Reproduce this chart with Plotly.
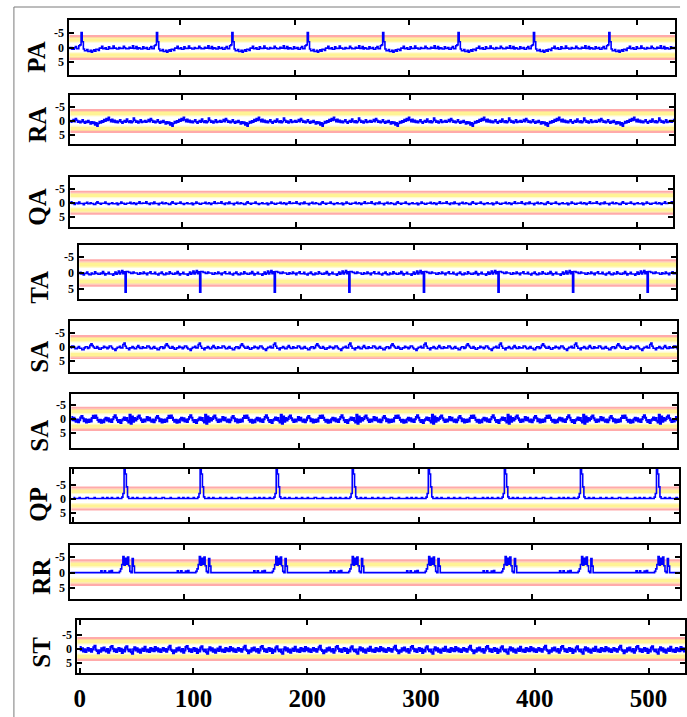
import numpy as np
import plotly.graph_objects as go

# ---- data: one gait cycle (66 samples) per channel, repeated over the record ----
N_SAMPLES = 534
labels = ["PA", "RA", "QA", "TA", "SA", "SA", "QP", "RR", "ST"]

PA = [0.5, -0.2, 0.3, 0.3, 0.0, 0.6, 0.6, 0.1,
      -0.3, 0.4, 0.4, -0.6, -0.9, -5.2, -2.0, 0.5, 1.1, 1.1,
      0.7, 1.4, 1.4, 1.0, 1.6, 1.2, 0.8, 1.3, 0.6, 0.6,
      1.0, 0.2, 0.2, -0.4, 0.4, 0.4, 0.1, 0.6, 0.6, -0.2,
      0.3, 0.3, 0.3, -0.5, 0.2, 0.2, 0.5, 0.5, 0.0, 0.3,
      0.3, 0.3, -0.4, 0.1, 0.4, 0.4, 0.4, -0.1, 0.2, 0.2,
      -0.6, 0.3, 0.3, -0.3, 0.5, 0.1, 0.2, 0.5]

RA = [0.3, -0.2, 0.4, 0.1, -0.5, 0.2, -0.9, -0.3, 0.4, 0.0,
      0.6, 0.2, -0.4, 0.3, 0.8, 0.1, 0.5, -0.2, 0.4, 1.0,
      0.3, 0.9, 0.4, 1.4, 0.6, 1.8, 0.9, 0.2, 0.7, -0.1,
      0.4, -0.5, 0.1, -0.9, -0.2, -1.3, -0.4, 0.2, -0.6, 0.3,
      -0.3, 0.5, 0.0, 0.6, 0.1, -0.4, 0.3, 0.8, 0.2, -0.2,
      0.4, -0.7, 0.1, 0.5, -0.1, 0.6, 0.2, -1.1, -0.3, 0.4,
      0.0, 0.7, 0.2, -0.4, 0.5, 0.1]

QA = [0.2, 0.2, -0.3, 0.3, 0.3, 0.6, 0.1, 0.1, 0.4, -0.2,
      0.3, 0.3, 0.3, 0.7, 0.2, 0.2, -0.1, 0.4, 0.4, 0.0,
      0.3, 0.3, 0.6, 0.6, 0.1, -0.3, 0.2, 0.2, 0.5, 0.2,
      0.2, 0.2, -0.2, 0.3, 0.3, 0.6, 0.3, 0.3, 0.0, 0.4,
      0.4, 0.4, 0.1, 0.7, 0.3, 0.3, -0.2, 0.2, 0.2, 0.5,
      0.5, 0.2, 0.2, 0.2, -0.1, 0.4, 0.4, 0.0, 0.3, 0.6,
      0.2, 0.2, -0.3, 0.3, 0.3, 0.1]

TA = [-0.4, 0.2, 0.2, 0.2, -0.2, 0.3, 0.3, 0.6,
      0.1, 0.1, -0.3, 0.2, 0.5, 0.5, 0.0, 0.3, 0.3, -0.4,
      0.1, 0.1, 0.4, 0.4, 0.0, 0.2, -0.5, 0.1, 0.6, 0.2,
      0.2, -0.2, 0.3, 0.3, 0.3, 0.7, 0.2, -0.3, 0.4, 0.0,
      -0.6, 0.3, -0.2, -0.8, 0.2, -0.4, 6.0, -0.5, -0.5, -0.2,
      -0.2, 0.1, 0.1, -0.3, 0.0, 0.0, 0.0, 0.4, 0.4, -0.1,
      0.2, 0.2, -0.3, 0.1, 0.1, 0.5, 0.0, 0.0]

SA1 = [0.3, -0.4, -0.4, 0.1, 0.6, 0.6, 0.2, -0.2, 0.4, 0.4,
       0.9, 0.9, 0.3, -0.1, -0.1, 0.5, 0.2, -0.6, -1.2, -0.5,
       0.0, 0.4, 0.4, -0.2, 0.3, 0.8, 0.8, 0.3, 0.3, -0.3,
       0.1, 0.1, 0.6, 0.2, -0.4, -0.4, 0.2, 0.7, 0.7, 1.2,
       0.5, 0.1, 0.1, -0.3, 0.3, 0.3, -0.9, -1.4, -0.3, 0.4,
       0.4, 0.9, 0.3, 0.3, -0.2, 0.2, 0.6, 0.6, 0.0, -0.5,
       0.1, 0.5, 0.5, -0.1, 0.3, 0.3]

SA2 = [0.2, -0.7, 0.5, -0.4, 0.6, 1.0, 0.2, 1.2, 0.5, -0.5,
       -1.0, -0.2, 0.8, 0.1, 1.3, 0.3, 1.1, 0.2, 0.9, -0.3,
       -1.1, -0.3, -1.2, -0.4, 0.4, 1.0, 0.3, 1.4, 0.5, 1.2,
       0.1, -0.4, 0.6, -0.2, 0.9, 0.2, 1.1, 0.1, -0.7, -1.3,
       -0.4, 0.5, 1.1, 0.4, 1.5, 0.6, 0.1, -0.5, 0.4, -0.3,
       0.7, 1.3, -1.5, 1.7, -0.9, 1.0, -0.3, 0.6, 0.0, -0.8,
       -1.2, -0.2, 0.5, 1.1, 0.2, 0.9]

QP = [-0.4, 0.0, 0.0, 0.0, 0.0, -0.4, 0.0,
      0.0, 0.0, 0.0, 0.0, -0.4, -0.4, 0.0, 0.0, 0.0, 0.0,
      0.0, -0.4, 0.0, 0.0, 0.0, 0.0, 0.0, 0.0, -0.4, 0.0,
      0.0, 0.0, -0.4, 0.0, 0.0, 0.0, -0.4, 0.0, 0.0, 0.0,
      0.0, -0.4, 0.0, 0.0, 0.0, -0.5, -1.8, -10.5, -8.8, -4.2,
      -0.6, 0.0, 0.0, 0.0, -0.4, 0.0, 0.0, 0.0, -0.4, 0.0,
      0.0, 0.0, 0.0, 0.0, -0.4, 0.0, 0.0, 0.0, 0.0]

RR = [0.0, 0.0, 0.0, 0.0, 0.0, 0.0, 0.0, 0.0, 0.0, 0.0,
      0.0, 0.0, 0.0, 0.0, 0.0, 0.0, 0.0, 0.0, 0.0, 0.0,
      0.0, 0.0, 0.0, 0.0, 0.0, 0.0, 0.0, 0.0, -0.6, 0.0,
      0.0, -0.6, 0.0, 0.0, 0.0, -0.5, 0.0, -0.7, 0.0, 0.0,
      0.0, 0.0, 0.0, 0.0, -0.4, -1.2, -2.6, -5.2, -2.4, -4.6,
      -2.7, -5.0, -2.2, -0.4, 0.0, -4.5, -2.1, 0.0, 0.0, 0.0,
      0.0, 0.0, 0.0, 0.0, 0.0, 0.0]

ST = [-0.7, 0.4, -0.3, 0.9, 0.1, 1.1, 0.3, -0.4, 0.6, 0.0,
      1.0, 0.2, -0.6, -1.2, 0.3, 0.7, 1.5, 0.4, 1.0, -0.3,
      0.5, -0.5, 0.4, 0.9, 0.0, 1.3, 0.5, -0.7, -1.1, -0.1,
      0.8, 0.1, 1.1, 0.2, -0.4, 0.7, -0.1, 1.4, 0.3, 0.9,
      -0.5, -1.0, 0.2, 0.8, 0.2, 1.2, 1.7, 0.1, -0.6, 0.5,
      -0.3, 1.0, 0.2, 1.3, 0.4, -0.2, 0.7, -0.8, 0.3, 0.9,
      0.2, 1.1, -0.4, 0.6, -0.1, 0.8]

cycles = [PA, RA, QA, TA, SA1, SA2, QP, RR, ST]

x_ticks = [0, 100, 200, 300, 400, 500]
y_ticks = [-5, 0, 5]
y_tick_text = ["-5", "0", "5"]

# ---- layout: panel boxes in pixels (left, right, top, bottom) ----
W, H = 687, 717
boxes = [(66, 677, 20, 75), (67, 676, 95, 144), (67, 675, 177, 227),
         (76, 678, 245, 299), (67, 679, 321, 372), (68, 679, 394, 448),
         (68, 681, 469, 522), (67, 682, 545, 599), (74, 687, 620, 673)]
x_ranges = [(2.8, 533), (1.7, 532.5), (1.7, 531.6), (3.5, 531.6), (0.0, 532),
            (1.3, 530), (-1.7, 525.6), (1.7, 528), (-2.0, 532)]
# (value at top, value at bottom) -> axis runs downward
y_ranges = [(-9.5, 9.5), (-9.3, 8.2), (-9.2, 8.7), (-8.75, 8.1), (-9.3, 8.9),
            (-8.9, 10.4), (-10.6, 8.4), (-8.9, 8.5), (-10.4, 8.6)]
line_widths = [1.6, 1.6, 1.6, 1.6, 1.6, 2.0, 1.6, 1.6, 2.0]
label_xy = [(32, 57), (33, 125), (33, 207), (35, 287), (35, 357),
            (35, 436), (35, 504), (37, 576), (37, 652)]

SERIF = "Liberation Serif, Times New Roman, serif"

# threshold bands (inner, outer, colour), mirrored about zero
bands = [(1.6, 2.0, "#fffbd0"), (2.0, 3.2, "#fff395"),
         (3.2, 3.6, "#ffd79c"), (3.6, 4.3, "#ffaaaa")]

x = np.arange(N_SAMPLES)
fig = go.Figure()
layout = {}
shapes = []
annotations = []

for i, (cyc, lab) in enumerate(zip(cycles, labels)):
    suffix = "" if i == 0 else str(i + 1)
    reps = N_SAMPLES // len(cyc) + 1
    y = np.tile(np.array(cyc), reps)[:N_SAMPLES]
    fig.add_trace(go.Scatter(
        x=x, y=y, mode="lines",
        line=dict(color="#0000ff", width=line_widths[i], shape="hv"),
        xaxis="x" + suffix, yaxis="y" + suffix,
        showlegend=False, hoverinfo="skip"))

    l, r, t, b = boxes[i]
    last = i == len(cycles) - 1
    layout["xaxis" + suffix] = dict(
        domain=[l / W, r / W], anchor="y" + suffix,
        range=list(x_ranges[i]), tickvals=x_ticks,
        ticks="inside", ticklen=5, tickwidth=2, tickcolor="black",
        showline=True, linewidth=2, linecolor="black", mirror="ticks",
        showgrid=False, zeroline=False,
        showticklabels=last, ticklabelstandoff=2,
        tickfont=dict(family=SERIF, size=25, color="black", weight="bold"))
    top_v, bot_v = y_ranges[i]
    layout["yaxis" + suffix] = dict(
        domain=[1 - b / H, 1 - t / H], anchor="x" + suffix,
        range=[bot_v, top_v], tickvals=y_ticks, ticktext=y_tick_text,
        ticks="inside", ticklen=5, tickwidth=2, tickcolor="black",
        showline=True, linewidth=2, linecolor="black", mirror="ticks",
        showgrid=False, zeroline=False, ticklabelstandoff=1,
        tickfont=dict(family=SERIF, size=12, color="black", weight="bold"))

    for lo, hi, col in bands:
        for sgn in (-1, 1):
            shapes.append(dict(
                type="rect", xref="x" + suffix + " domain", yref="y" + suffix,
                x0=0, x1=1, y0=sgn * lo, y1=sgn * hi,
                fillcolor=col, line=dict(width=0), layer="below"))

    lx, ly = label_xy[i]
    annotations.append(dict(
        text=lab, x=lx / W, y=1 - ly / H, xref="paper", yref="paper",
        showarrow=False, textangle=-90, xanchor="center", yanchor="middle",
        font=dict(family=SERIF, size=25, color="black", weight="bold")))

# outer frame
shapes.append(dict(type="line", xref="paper", yref="paper",
                   x0=10 / W, x1=682 / W, y0=1 - 7 / H, y1=1 - 7 / H,
                   line=dict(color="#7a7a7a", width=1)))
shapes.append(dict(type="line", xref="paper", yref="paper",
                   x0=10 / W, x1=10 / W, y0=1 - 7 / H, y1=0,
                   line=dict(color="#7a7a7a", width=1)))

fig.update_layout(
    width=W, height=H, margin=dict(l=0, r=0, t=0, b=0),
    paper_bgcolor="white", plot_bgcolor="white",
    font=dict(family=SERIF, color="black"),
    shapes=shapes, annotations=annotations, **layout)

fig.write_html("out.html")
